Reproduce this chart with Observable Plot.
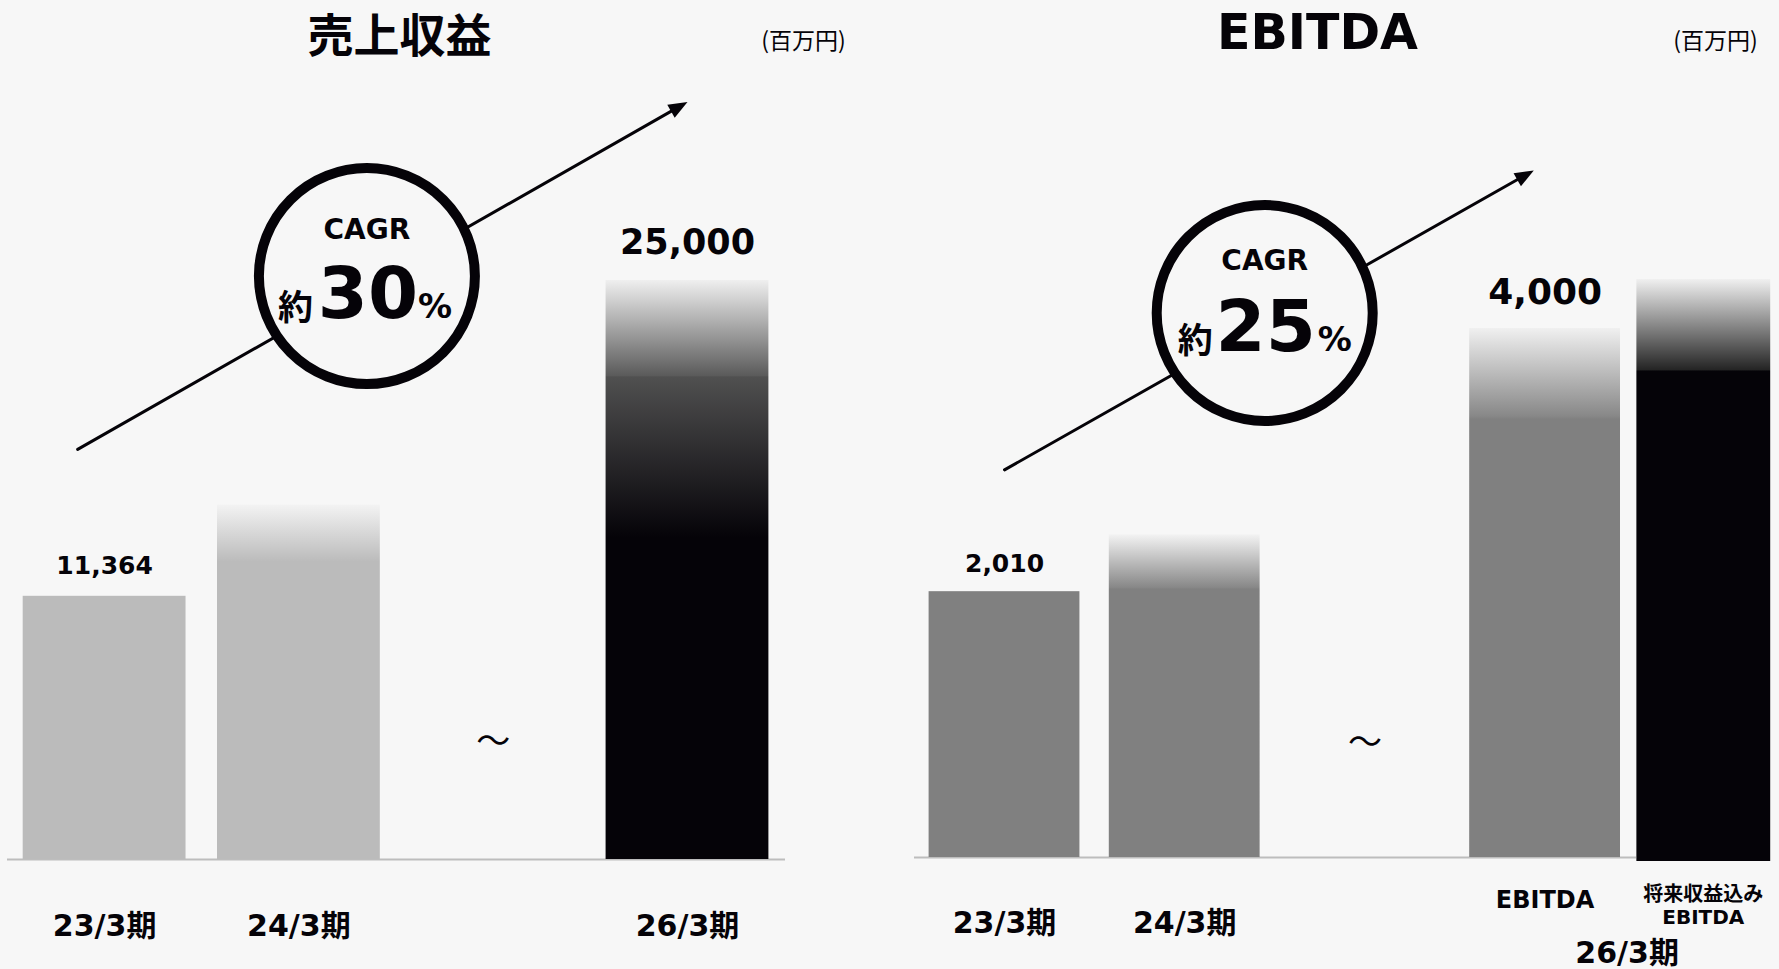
<!DOCTYPE html>
<html lang="ja">
<head>
<meta charset="utf-8">
<script src="https://cdn.jsdelivr.net/npm/d3@7"></script>
<script src="https://cdn.jsdelivr.net/npm/@observablehq/plot@0.6"></script>
<style>
  html, body { margin: 0; padding: 0; background: #f7f7f7; }
  #charts { display: flex; width: 1779px; height: 969px; overflow: hidden; }
  #charts svg { flex: none; }
</style>
</head>
<body>
<div id="charts"></div>
<script>
// ---- 売上収益（百万円） ----
const revenuePeriods = ["23/3期", "24/3期", "～", "26/3期"];
const revenueValues = [11364, 15300, null, 25000];
const revenueLabeled = [true, false, false, true];
const revenueFills = ["#bbbbbb", "url(#rev-24)", null, "url(#rev-26)"];
const revenueCagr = "30";

// ---- EBITDA（百万円） ----
const ebitdaKeys = ["23/3期", "24/3期", "～", "EBITDA", "将来収益込みEBITDA"];
const ebitdaValues = [2010, 2440, null, 4000, 4370];
const ebitdaLabeled = [true, false, false, true, false];
const ebitdaFills = ["#808080", "url(#ebitda-24)", null, "url(#ebitda-26)", "url(#ebitda-future)"];
const ebitdaTicks = ["23/3期", "24/3期", "", "EBITDA", "将来収益込み\nEBITDA"];
const ebitdaGroup = "26/3期";
const ebitdaCagr = "25";

// Growth arrows and CAGR badges, anchored in each chart's own units
const revenueTrend = {from: "23/3期", to: "26/3期", v1: 18370, v2: 32710};
const ebitdaTrend = {from: "23/3期", to: "EBITDA", v1: 2931, v2: 5244};
const revenueBadge = {x: "24/3期", v: 25190};
const ebitdaBadge = {x: "24/3期", v: 4117};

// Vertical fades for forecast bars
const gradients = {
  "rev-24": [[0, "#f3f3f3"], [0.161, "#bbbbbb"], [1, "#bbbbbb"]],
  "rev-26": [[0, "#efefef"], [0.166, "#5a5a5a"], [0.167, "#505050"], [0.444, "#050308"], [1, "#050308"]],
  "ebitda-24": [[0, "#f3f3f3"], [0.164, "#888888"], [0.17, "#808080"], [1, "#808080"]],
  "ebitda-26": [[0, "#f0f0f0"], [0.166, "#888888"], [0.172, "#808080"], [1, "#808080"]],
  "ebitda-future": [[0, "#f0f0f0"], [0.156, "#242424"], [0.158, "#050308"], [1, "#050308"]]
};

const INK = "#050308";
const BG = "#f7f7f7";
const RULE = "#bdbdbd";
const LATIN = "'DejaVu Sans', 'Noto Sans CJK JP', sans-serif";
const CJK = "'Noto Sans CJK JP', sans-serif";
const fmt = d3.format(",");
const H = 969;

function gradientDefs(ids) {
  return () => {
    const defs = d3.create("svg:defs");
    for (const id of ids) {
      const g = defs.append("linearGradient").attr("id", id)
        .attr("x1", 0).attr("y1", 0).attr("x2", 0).attr("y2", 1);
      for (const [o, c] of gradients[id]) g.append("stop").attr("offset", o).attr("stop-color", c);
    }
    return defs.node();
  };
}

// Filled triangular arrowhead whose tip sits `back` px before the path end
function arrowHead(back) {
  return () => {
    const m = d3.create("svg:marker")
      .attr("viewBox", `${-back - 21} -9 ${back + 23} 18`)
      .attr("markerWidth", back + 23)
      .attr("markerHeight", 18)
      .attr("markerUnits", "userSpaceOnUse")
      .attr("refX", 0).attr("refY", 0)
      .attr("orient", "auto");
    m.append("path")
      .attr("d", `M${-back},0L${-back - 19},-7.5L${-back - 19},7.5Z`)
      .attr("fill", INK).attr("stroke", "none");
    return m.node();
  };
}

function badgeMarks(badge, cagr, o) {
  const base = {x: "x", y: "v", fill: INK, lineAnchor: "bottom"};
  return [
    Plot.dot([badge], {x: "x", y: "v", dx: o.cx, r: 108, fill: BG, stroke: INK, strokeWidth: 10}),
    Plot.text([badge], {...base, text: () => "CAGR", dx: o.cx, dy: o.capDy,
      fontSize: 28, fontWeight: "bold", fontFamily: LATIN}),
    Plot.text([badge], {...base, text: () => cagr, dx: o.cx + 1, dy: o.numDy,
      fontSize: 72, fontWeight: "bold", fontFamily: LATIN}),
    Plot.text([badge], {...base, text: () => "約", dx: o.cx + o.pre, dy: o.numDy + 2, textAnchor: "end",
      fontSize: 35, fontWeight: "bold", fontFamily: CJK}),
    Plot.text([badge], {...base, text: () => "%", dx: o.cx + o.post, dy: o.numDy, textAnchor: "start",
      fontSize: 34, fontWeight: "bold", fontFamily: LATIN})
  ];
}

function title(text, x, y, ml, style) {
  return Plot.text([text], {frameAnchor: "top-left", dx: x - ml, dy: y, lineAnchor: "bottom",
    textAnchor: "middle", fill: INK, ...style});
}

// ---------- 売上収益 ----------
const revRows = revenuePeriods.map((key, i) => ({
  key, value: revenueValues[i], fill: revenueFills[i], labeled: revenueLabeled[i]
}));
const revBars = revRows.filter((d) => d.value != null);
const revML = 7, revMR = 104;

const revenueChart = Plot.plot({
  width: 889, height: H,
  marginLeft: revML, marginRight: revMR, marginTop: 0, marginBottom: 0,
  style: {background: BG, overflow: "visible"},
  x: {type: "band", domain: revenuePeriods, range: [22.7, 768.4], paddingInner: 0.162, paddingOuter: 0, round: false, axis: null},
  y: {domain: [0, 25000], range: [859, 280], axis: null},
  color: {type: "identity"},
  marks: [
    gradientDefs(["rev-24", "rev-26"]),
    Plot.arrow([revenueTrend], {x1: "from", x2: "to", y1: "v1", y2: "v2", headLength: 0,
      insetStart: -31, insetEnd: 10, stroke: INK, strokeWidth: 3}),
    Plot.link([revenueTrend], {x1: "from", x2: "to", y1: "v1", y2: "v2",
      stroke: INK, strokeOpacity: 0, markerEnd: arrowHead(0)}),
    ...badgeMarks(revenueBadge, revenueCagr, {cx: 68, capDy: -37, numDy: 42, pre: -54, post: 51}),
    Plot.ruleY([0], {stroke: RULE, strokeWidth: 2}),
    Plot.barY(revBars, {x: "key", y: "value", fill: "fill"}),
    Plot.text(revBars.filter((d) => d.labeled && d.key !== "26/3期"), {x: "key", y: "value",
      text: (d) => fmt(d.value), dy: -22, lineAnchor: "bottom", fill: INK,
      fontSize: 25, fontWeight: "bold", fontFamily: LATIN}),
    Plot.text(revBars.filter((d) => d.labeled && d.key === "26/3期"), {x: "key", y: "value",
      text: (d) => fmt(d.value), dy: -27, lineAnchor: "bottom", fill: INK,
      fontSize: 35, fontWeight: "bold", fontFamily: LATIN}),
    Plot.text(["～"], {x: (d) => d, frameAnchor: "bottom", dy: 742 - H, lineAnchor: "middle",
      fill: INK, fontSize: 34, fontFamily: CJK}),
    Plot.text(revenuePeriods.filter((p) => p !== "～"), {x: (d) => d, frameAnchor: "bottom",
      dy: 935 - H, lineAnchor: "bottom", fill: INK, fontSize: 30, fontWeight: "bold", fontFamily: LATIN}),
    title("売上収益", 399, 51, revML, {fontSize: 46, fontWeight: "bold", fontFamily: CJK}),
    title("(百万円)", 803, 48, revML, {fontSize: 23, fontFamily: CJK})
  ]
});

// ---------- EBITDA ----------
const ebRows = ebitdaKeys.map((key, i) => ({
  key, value: ebitdaValues[i], fill: ebitdaFills[i], labeled: ebitdaLabeled[i], tick: ebitdaTicks[i]
}));
const ebBars = ebRows.filter((d) => d.value != null && d.key !== "将来収益込みEBITDA");
const ebFuture = ebRows.filter((d) => d.key === "将来収益込みEBITDA");
const ebML = 25, ebMR = 143;

const ebitdaChart = Plot.plot({
  width: 890, height: H,
  marginLeft: ebML, marginRight: ebMR, marginTop: 0, marginBottom: 0,
  style: {background: BG, overflow: "visible"},
  x: {type: "band", domain: ebitdaKeys, range: [39.6, 911.2], paddingInner: 0.163, paddingOuter: 0, round: false, axis: null},
  y: {domain: [0, 4000], range: [857, 328], axis: null},
  color: {type: "identity"},
  marks: [
    gradientDefs(["ebitda-24", "ebitda-26", "ebitda-future"]),
    Plot.arrow([ebitdaTrend], {x1: "from", x2: "to", y1: "v1", y2: "v2", headLength: 0,
      insetStart: 0, insetEnd: 23, stroke: INK, strokeWidth: 3}),
    Plot.link([ebitdaTrend], {x1: "from", x2: "to", y1: "v1", y2: "v2",
      stroke: INK, strokeOpacity: 0, markerEnd: arrowHead(13)}),
    ...badgeMarks(ebitdaBadge, ebitdaCagr, {cx: 80, capDy: -43, numDy: 38, pre: -52, post: 53}),
    Plot.ruleY([0], {stroke: RULE, strokeWidth: 2}),
    Plot.barY(ebBars, {x: "key", y: "value", fill: "fill"}),
    Plot.barY(ebFuture, {x: "key", y: "value", fill: "fill", insetLeft: -13, insetRight: 30, insetBottom: -4}),
    Plot.text(ebBars.filter((d) => d.labeled && d.key === "23/3期"), {x: "key", y: "value",
      text: (d) => fmt(d.value), dy: -20, lineAnchor: "bottom", fill: INK,
      fontSize: 25, fontWeight: "bold", fontFamily: LATIN}),
    Plot.text(ebBars.filter((d) => d.labeled && d.key === "EBITDA"), {x: "key", y: "value",
      text: (d) => fmt(d.value), dy: -25, lineAnchor: "bottom", fill: INK,
      fontSize: 36, fontWeight: "bold", fontFamily: LATIN}),
    Plot.text(["～"], {x: (d) => d, frameAnchor: "bottom", dy: 743 - H, lineAnchor: "middle",
      fill: INK, fontSize: 34, fontFamily: CJK}),
    Plot.text(ebRows.filter((d) => d.key === "23/3期" || d.key === "24/3期"), {x: "key", text: "tick",
      frameAnchor: "bottom", dy: 932 - H, lineAnchor: "bottom", fill: INK,
      fontSize: 30, fontWeight: "bold", fontFamily: LATIN}),
    Plot.text(ebRows.filter((d) => d.key === "EBITDA"), {x: "key", text: "tick",
      frameAnchor: "bottom", dy: 907 - H, lineAnchor: "bottom", fill: INK,
      fontSize: 24, fontWeight: "bold", fontFamily: LATIN}),
    Plot.text(ebFuture, {x: "key", text: "tick", dx: -22,
      frameAnchor: "bottom", dy: 923 - H, lineAnchor: "bottom", lineHeight: 1.15, fill: INK,
      fontSize: 20, fontWeight: "bold", fontFamily: LATIN}),
    Plot.text([ebitdaGroup], {x: () => "EBITDA", dx: 82, frameAnchor: "bottom", dy: 962 - H,
      lineAnchor: "bottom", fill: INK, fontSize: 30, fontWeight: "bold", fontFamily: LATIN}),
    title("EBITDA", 428, 48, ebML, {fontSize: 49, fontWeight: "bold", fontFamily: LATIN}),
    title("(百万円)", 826, 48, ebML, {fontSize: 23, fontFamily: CJK})
  ]
});

const host = document.getElementById("charts");
host.append(revenueChart, ebitdaChart);
</script>
</body>
</html>
